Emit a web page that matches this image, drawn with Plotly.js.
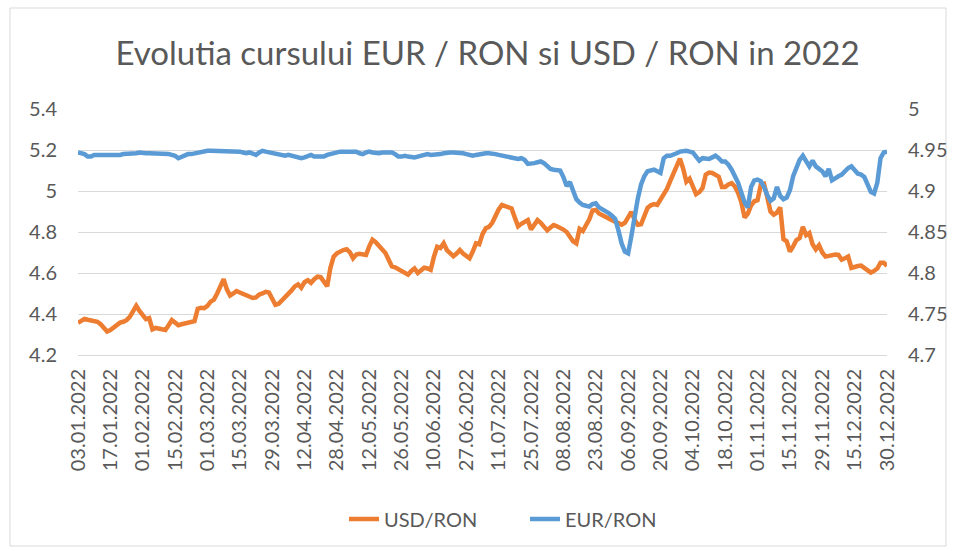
<!DOCTYPE html>
<html>
<head>
<meta charset="utf-8">
<script src="https://cdn.plot.ly/plotly-3.0.1.min.js"></script>
<style>
  html, body { margin: 0; padding: 0; background: #ffffff; }
  #chart { width: 955px; height: 551px; }
</style>
</head>
<body>
<div id="chart"></div>
<script>
// Business days 2022 (categories)
const dates = [
  "03.01.2022","04.01.2022","05.01.2022","06.01.2022","07.01.2022","10.01.2022","11.01.2022","12.01.2022","13.01.2022","14.01.2022",
  "17.01.2022","18.01.2022","19.01.2022","20.01.2022","21.01.2022","25.01.2022","26.01.2022","27.01.2022","28.01.2022","31.01.2022",
  "01.02.2022","02.02.2022","03.02.2022","04.02.2022","07.02.2022","08.02.2022","09.02.2022","10.02.2022","11.02.2022","14.02.2022",
  "15.02.2022","16.02.2022","17.02.2022","18.02.2022","21.02.2022","22.02.2022","23.02.2022","24.02.2022","25.02.2022","28.02.2022",
  "01.03.2022","02.03.2022","03.03.2022","04.03.2022","07.03.2022","08.03.2022","09.03.2022","10.03.2022","11.03.2022","14.03.2022",
  "15.03.2022","16.03.2022","17.03.2022","18.03.2022","21.03.2022","22.03.2022","23.03.2022","24.03.2022","25.03.2022","28.03.2022",
  "29.03.2022","30.03.2022","31.03.2022","01.04.2022","04.04.2022","05.04.2022","06.04.2022","07.04.2022","08.04.2022","11.04.2022",
  "12.04.2022","13.04.2022","14.04.2022","15.04.2022","18.04.2022","19.04.2022","20.04.2022","21.04.2022","26.04.2022","27.04.2022",
  "28.04.2022","29.04.2022","02.05.2022","03.05.2022","04.05.2022","05.05.2022","06.05.2022","09.05.2022","10.05.2022","11.05.2022",
  "12.05.2022","13.05.2022","16.05.2022","17.05.2022","18.05.2022","19.05.2022","20.05.2022","23.05.2022","24.05.2022","25.05.2022",
  "26.05.2022","27.05.2022","30.05.2022","31.05.2022","02.06.2022","03.06.2022","06.06.2022","07.06.2022","08.06.2022","09.06.2022",
  "10.06.2022","14.06.2022","15.06.2022","16.06.2022","17.06.2022","20.06.2022","21.06.2022","22.06.2022","23.06.2022","24.06.2022",
  "27.06.2022","28.06.2022","29.06.2022","30.06.2022","01.07.2022","04.07.2022","05.07.2022","06.07.2022","07.07.2022","08.07.2022",
  "11.07.2022","12.07.2022","13.07.2022","14.07.2022","15.07.2022","18.07.2022","19.07.2022","20.07.2022","21.07.2022","22.07.2022",
  "25.07.2022","26.07.2022","27.07.2022","28.07.2022","29.07.2022","01.08.2022","02.08.2022","03.08.2022","04.08.2022","05.08.2022",
  "08.08.2022","09.08.2022","10.08.2022","11.08.2022","12.08.2022","16.08.2022","17.08.2022","18.08.2022","19.08.2022","22.08.2022",
  "23.08.2022","24.08.2022","25.08.2022","26.08.2022","29.08.2022","30.08.2022","31.08.2022","01.09.2022","02.09.2022","05.09.2022",
  "06.09.2022","07.09.2022","08.09.2022","09.09.2022","12.09.2022","13.09.2022","14.09.2022","15.09.2022","16.09.2022","19.09.2022",
  "20.09.2022","21.09.2022","22.09.2022","23.09.2022","26.09.2022","27.09.2022","28.09.2022","29.09.2022","30.09.2022","03.10.2022",
  "04.10.2022","05.10.2022","06.10.2022","07.10.2022","10.10.2022","11.10.2022","12.10.2022","13.10.2022","14.10.2022","17.10.2022",
  "18.10.2022","19.10.2022","20.10.2022","21.10.2022","24.10.2022","25.10.2022","26.10.2022","27.10.2022","28.10.2022","31.10.2022",
  "01.11.2022","02.11.2022","03.11.2022","04.11.2022","07.11.2022","08.11.2022","09.11.2022","10.11.2022","11.11.2022","14.11.2022",
  "15.11.2022","16.11.2022","17.11.2022","18.11.2022","21.11.2022","22.11.2022","23.11.2022","24.11.2022","25.11.2022","28.11.2022",
  "29.11.2022","02.12.2022","05.12.2022","06.12.2022","07.12.2022","08.12.2022","09.12.2022","12.12.2022","13.12.2022","14.12.2022",
  "15.12.2022","16.12.2022","19.12.2022","20.12.2022","21.12.2022","22.12.2022","23.12.2022","27.12.2022","28.12.2022","29.12.2022",
  "30.12.2022"
];

// Tick labels shown on the category axis
const tickLabels = [
  "03.01.2022","17.01.2022","01.02.2022","15.02.2022","01.03.2022","15.03.2022","29.03.2022",
  "12.04.2022","28.04.2022","12.05.2022","26.05.2022","10.06.2022","27.06.2022","11.07.2022",
  "25.07.2022","08.08.2022","23.08.2022","06.09.2022","20.09.2022","04.10.2022","18.10.2022",
  "01.11.2022","15.11.2022","29.11.2022","15.12.2022","30.12.2022"
];

// USD/RON (left axis)
const usdRon = [
  4.357,4.370,4.376,4.372,4.370,4.368,4.362,4.350,4.330,4.315,
  4.322,4.334,4.348,4.358,4.362,4.370,4.386,4.410,4.440,4.415,
  4.395,4.375,4.380,4.325,4.332,4.330,4.326,4.322,4.345,4.370,
  4.358,4.345,4.350,4.355,4.358,4.360,4.365,4.425,4.430,4.428,
  4.440,4.460,4.470,4.500,4.540,4.570,4.520,4.490,4.500,4.512,
  4.505,4.498,4.490,4.482,4.478,4.481,4.495,4.500,4.508,4.505,
  4.480,4.445,4.450,4.465,4.480,4.498,4.515,4.535,4.545,4.528,
  4.555,4.565,4.552,4.570,4.582,4.580,4.560,4.535,4.625,4.680,
  4.696,4.705,4.712,4.716,4.702,4.672,4.690,4.694,4.690,4.688,
  4.730,4.762,4.750,4.732,4.715,4.698,4.665,4.632,4.628,4.620,
  4.612,4.605,4.592,4.610,4.622,4.600,4.610,4.626,4.622,4.615,
  4.680,4.728,4.722,4.745,4.712,4.695,4.682,4.695,4.712,4.695,
  4.680,4.672,4.705,4.745,4.740,4.790,4.818,4.825,4.845,4.880,
  4.910,4.932,4.925,4.922,4.915,4.870,4.828,4.840,4.852,4.858,
  4.812,4.840,4.858,4.845,4.825,4.808,4.822,4.834,4.828,4.822,
  4.812,4.800,4.780,4.755,4.745,4.815,4.805,4.830,4.862,4.905,
  4.908,4.890,4.880,4.872,4.866,4.858,4.850,4.838,4.836,4.845,
  4.875,4.898,4.860,4.835,4.838,4.880,4.918,4.930,4.936,4.932,
  4.955,4.985,5.010,5.048,5.085,5.120,5.158,5.110,5.045,5.060,
  5.020,4.985,4.995,5.015,5.080,5.090,5.088,5.080,5.070,5.020,
  5.020,5.032,5.038,5.022,4.990,4.945,4.870,4.890,4.930,4.950,
  4.955,5.030,5.035,4.970,4.900,4.885,4.895,4.920,4.765,4.755,
  4.705,4.730,4.760,4.770,4.825,4.785,4.795,4.740,4.715,4.735,
  4.700,4.680,4.685,4.688,4.690,4.688,4.665,4.672,4.680,4.625,
  4.632,4.634,4.636,4.624,4.612,4.602,4.610,4.622,4.650,4.650,
  4.634
];

// EUR/RON (right axis)
const eurRon = [
  4.947,4.946,4.945,4.942,4.942,4.944,4.944,4.943,4.943,4.943,
  4.944,4.944,4.943,4.944,4.945,4.945,4.945,4.946,4.946,4.947,
  4.946,4.946,4.946,4.946,4.946,4.946,4.946,4.945,4.945,4.944,
  4.943,4.940,4.942,4.944,4.945,4.945,4.946,4.947,4.948,4.948,
  4.949,4.949,4.949,4.949,4.948,4.948,4.949,4.949,4.949,4.948,
  4.948,4.947,4.946,4.947,4.946,4.944,4.947,4.949,4.948,4.947,
  4.947,4.946,4.945,4.944,4.943,4.944,4.943,4.942,4.941,4.940,
  4.941,4.943,4.944,4.942,4.942,4.941,4.942,4.944,4.945,4.947,
  4.947,4.948,4.948,4.948,4.948,4.949,4.948,4.946,4.945,4.947,
  4.948,4.947,4.946,4.946,4.947,4.947,4.947,4.947,4.945,4.942,
  4.942,4.943,4.942,4.941,4.941,4.942,4.943,4.944,4.945,4.944,
  4.944,4.945,4.945,4.946,4.947,4.947,4.947,4.947,4.947,4.946,
  4.945,4.944,4.943,4.944,4.945,4.946,4.946,4.946,4.946,4.945,
  4.944,4.943,4.942,4.941,4.941,4.939,4.939,4.940,4.938,4.933,
  4.933,4.934,4.935,4.936,4.934,4.930,4.927,4.926,4.926,4.925,
  4.917,4.906,4.911,4.901,4.890,4.886,4.883,4.882,4.881,4.884,
  4.885,4.880,4.878,4.876,4.873,4.870,4.866,4.852,4.836,4.826,
  4.824,4.845,4.870,4.891,4.908,4.918,4.924,4.925,4.926,4.924,
  4.922,4.940,4.943,4.943,4.944,4.946,4.948,4.949,4.949,4.948,
  4.947,4.942,4.937,4.940,4.940,4.939,4.941,4.943,4.940,4.936,
  4.936,4.932,4.926,4.918,4.910,4.898,4.886,4.880,4.905,4.913,
  4.914,4.912,4.905,4.895,4.888,4.891,4.905,4.894,4.890,4.892,
  4.901,4.918,4.928,4.938,4.943,4.936,4.930,4.937,4.930,4.927,
  4.924,4.918,4.927,4.913,4.916,4.918,4.920,4.924,4.928,4.930,
  4.925,4.921,4.920,4.917,4.908,4.899,4.897,4.910,4.940,4.947,
  4.948
];

const FONT = "Lato, 'Open Sans', sans-serif";
const GREY = "#595959";

const traces = [
  {
    x: dates, y: usdRon, name: "USD/RON", type: "scatter", mode: "lines",
    line: { color: "#ED7D31", width: 4.5, shape: "linear" }, yaxis: "y"
  },
  {
    x: dates, y: eurRon, name: "EUR/RON", type: "scatter", mode: "lines",
    line: { color: "#5B9BD5", width: 4.5, shape: "linear" }, yaxis: "y2"
  }
];

const layout = {
  width: 955, height: 551,
  margin: { l: 78, r: 68, t: 109, b: 196 },
  paper_bgcolor: "#ffffff", plot_bgcolor: "#ffffff",
  font: { family: FONT, color: GREY, size: 20 },
  title: {
    text: "Evolutia cursului EUR / RON si USD / RON in 2022",
    font: { family: FONT, size: 33, color: GREY },
    xref: "container", x: 487.5 / 955, xanchor: "center",
    yref: "container", y: 1 - 53 / 551, yanchor: "middle"
  },
  xaxis: {
    type: "category",
    categoryorder: "array", categoryarray: dates,
    range: [0, 250],
    tickmode: "array", tickvals: tickLabels, ticktext: tickLabels,
    tickangle: -90,
    showgrid: false, zeroline: false,
    showline: true, linecolor: "#D9D9D9", linewidth: 1,
    ticks: "outside", ticklen: 5, tickcolor: "rgba(0,0,0,0)",
    tickfont: { family: FONT, size: 20, color: GREY }
  },
  yaxis: {
    range: [4.2, 5.4], dtick: 0.2, tick0: 4.2,
    showgrid: true, gridcolor: "#D9D9D9", gridwidth: 1,
    zeroline: false, showline: false,
    ticks: "outside", ticklen: 16, tickcolor: "rgba(0,0,0,0)",
    tickfont: { family: FONT, size: 20, color: GREY }
  },
  yaxis2: {
    range: [4.7, 5.0], dtick: 0.05, tick0: 4.7,
    overlaying: "y", side: "right",
    showgrid: false, zeroline: false, showline: false,
    ticks: "outside", ticklen: 16, tickcolor: "rgba(0,0,0,0)",
    tickfont: { family: FONT, size: 20, color: GREY }
  },
  showlegend: true,
  legend: {
    orientation: "h",
    x: (344 - 78) / 809, xanchor: "left",
    y: (355 - 519) / 246, yanchor: "middle",
    entrywidth: 136, entrywidthmode: "pixels",
    font: { family: FONT, size: 20, color: GREY },
    bgcolor: "rgba(0,0,0,0)"
  },
  shapes: [
    {
      type: "rect", xref: "paper", yref: "paper", layer: "below",
      x0: (10 - 78) / 809, x1: (946 - 78) / 809,
      y0: (355 - 546) / 246, y1: (355 - 8) / 246,
      line: { color: "#D9D9D9", width: 1 }, fillcolor: "rgba(0,0,0,0)"
    }
  ]
};

Plotly.newPlot("chart", traces, layout, { displayModeBar: false, staticPlot: true });
</script>
</body>
</html>
